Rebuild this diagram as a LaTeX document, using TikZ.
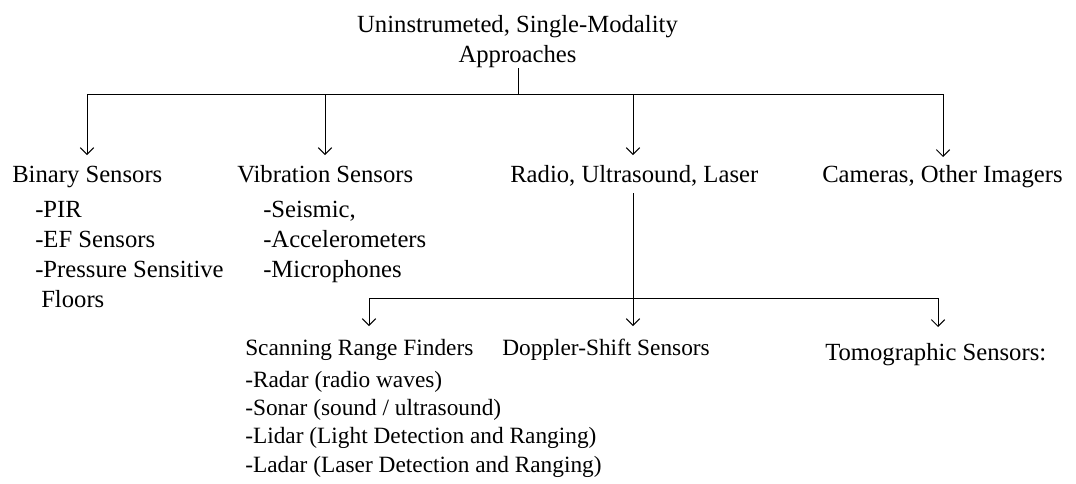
\documentclass[tikz,border=0pt]{standalone}
\usepackage{fontspec}
\setmainfont{Liberation Serif}
\usetikzlibrary{arrows.meta}
\begin{document}
\begin{tikzpicture}[x=0.75pt,y=-0.75pt,
  big/.style={inner sep=0pt,anchor=base west,font=\fontsize{18.5}{22}\selectfont},
  small/.style={inner sep=0pt,anchor=base west,font=\fontsize{17.5}{21}\selectfont},
  link/.style={line width=0.75pt},
  arr/.style={link,-{Straight Barb[length=5pt,width=10pt]}}]
\useasboundingbox (0,0) rectangle (1076,483);

% root
\node[big,anchor=base] (t1) at (517.5,32) {Uninstrumeted, Single-Modality};
\node[big,anchor=base] (t2) at (517.5,62.5) {Approaches};

% first level
\node[big] (bin) at (12,182.5) {Binary Sensors};
\node[big] (bin1) at (35,217) {-PIR};
\node[big] (bin2) at (35,247) {-EF Sensors};
\node[big] (bin3) at (35,277) {-Pressure Sensitive};
\node[big] (bin4) at (41,307) {Floors};

\node[big] (vib) at (237,182.5) {Vibration Sensors};
\node[big] (vib1) at (263,217) {-Seismic,};
\node[big] (vib2) at (263,247) {-Accelerometers};
\node[big] (vib3) at (263,277) {-Microphones};

\node[big] (rad) at (510,182.5) {Radio, Ultrasound, Laser};
\node[big] (cam) at (822,182.5) {Cameras, Other Imagers};

% second level
\node[small] (scan) at (245,355) {Scanning Range Finders};
\node[small] (scan1) at (245,387) {-Radar (radio waves)};
\node[small] (scan2) at (245,415) {-Sonar (sound / ultrasound)};
\node[small] (scan3) at (245,443) {-Lidar (Light Detection and Ranging)};
\node[small] (scan4) at (245,472) {-Ladar (Laser Detection and Ranging)};
\node[small] (dop) at (502,355) {Doppler-Shift Sensors};
\node[big] (tom) at (825,360) {Tomographic Sensors:};

% junctions and arrow tips
\coordinate (j0) at (518,94.3);
\coordinate (r0) at (633,193);
\coordinate (j1) at (633,298);
\coordinate (tbin) at (87,155);
\coordinate (tvib) at (325,155);
\coordinate (trad) at (633,155);
\coordinate (tcam) at (943,157);
\coordinate (tscan) at (369,326);
\coordinate (tdop) at (633,326);
\coordinate (ttom) at (938,327);

% connectors
\draw[link] (t2.south -| j0) -- (j0);
\draw[arr] (j0) -| (tbin);
\draw[arr] (j0) -| (tvib);
\draw[arr] (j0) -| (trad);
\draw[arr] (j0) -| (tcam);

\draw[link] (r0) -- (j1);
\draw[arr] (j1) -| (tscan);
\draw[arr] (j1) -- (tdop);
\draw[arr] (j1) -| (ttom);
\end{tikzpicture}
\end{document}
